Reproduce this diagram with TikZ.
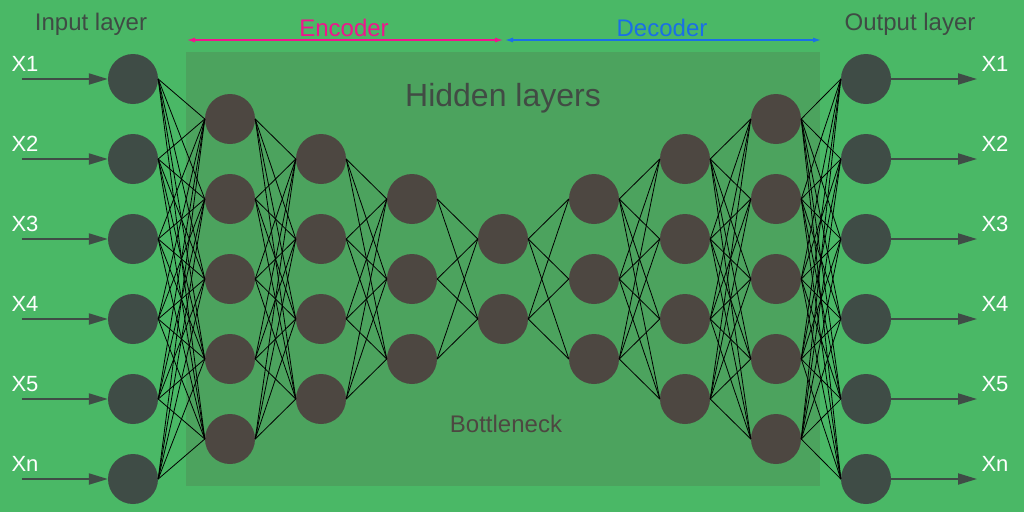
\documentclass[tikz,border=0pt]{standalone}
\usepackage{fontspec}
\setmainfont{Liberation Sans}
\usepackage{xcolor}
\definecolor{bggreen}{HTML}{4AB866}
\definecolor{panelgreen}{HTML}{4CA35E}
\definecolor{iocircle}{HTML}{3F4C46}
\definecolor{hidcircle}{HTML}{4D4741}
\definecolor{labelgray}{HTML}{3F4B44}
\definecolor{encpink}{HTML}{F0148C}
\definecolor{decblue}{HTML}{1A6FE6}
\usepackage{tikz}
\usetikzlibrary{arrows.meta, calc}

\begin{document}
\begin{tikzpicture}[
  x = 1pt, y = -1pt,
  neuron/.style   = {circle, minimum size=50pt, inner sep=0pt, fill=hidcircle},
  ioneuron/.style = {neuron, fill=iocircle},
  link/.style     = {black, line width=0.8pt},
  ioarr/.style    = {-{Triangle[length=19pt, width=11pt]}, line width=2pt, draw=iocircle},
  xlab/.style     = {text=white, inner sep=0pt, font=\fontsize{22}{26}\selectfont},
  title/.style    = {text=labelgray, inner sep=0pt, font=\fontsize{24}{28}\selectfont},
  span/.style     = {{Latex[length=8pt, width=5pt]}-{Latex[length=8pt, width=5pt]}, line width=1.2pt},
  panel/.style    = {fill=panelgreen, minimum width=634pt, minimum height=434pt, inner sep=0pt}
]

% ── CANVAS ──────────────────────────────────────────────
\fill[bggreen] (0,0) rectangle (1024,512);
\useasboundingbox (0,0) rectangle (1024,512);
\node[panel] (hidden) at (503,269) {};

% ── HEADINGS ────────────────────────────────────────────
\node[title] (inlab)  at (91,24)  {Input layer};
\node[title] (outlab) at (910,24) {Output layer};
\node[title, text=encpink] (enclab) at (344,28) {Encoder};
\node[title, text=decblue] (declab) at (662,28) {Decoder};
\node[title, text=labelgray!90!hidcircle, font=\fontsize{32}{36}\selectfont] (hidlab) at (503,98) {Hidden layers};
\node[title, text=hidcircle] (botlab) at (506,424) {Bottleneck};

\coordinate (enc-l) at (187,40);
\coordinate (enc-r) at (503,40);
\coordinate (dec-l) at (505,40);
\coordinate (dec-r) at (821,40);
\draw[span, encpink] (enc-l) -- (enc-r);
\draw[span, decblue] (dec-l) -- (dec-r);

% ── NEURONS ─────────────────────────────────────────────
\foreach \l/\x/\n/\s/\sty in {0/133/6/79/ioneuron, 1/230/5/119/neuron,
    2/321/4/159/neuron, 3/412/3/199/neuron, 4/503/2/239/neuron,
    5/594/3/199/neuron, 6/685/4/159/neuron, 7/776/5/119/neuron,
    8/866/6/79/ioneuron}
  \foreach \k in {1,...,\n}
    \node[\sty] (n-\l-\k) at (\x, {\s+80*(\k-1)}) {};

% ── WEIGHTS ─────────────────────────────────────────────
\foreach \l/\a/\b in {0/6/5, 1/5/4, 2/4/3, 3/3/2, 4/2/3, 5/3/4, 6/4/5, 7/5/6} {
  \pgfmathtruncatemacro{\m}{\l+1}
  \foreach \i in {1,...,\a}
    \foreach \j in {1,...,\b}
      \draw[link] (n-\l-\i.east) -- (n-\m-\j.west);
}

% ── INPUTS / OUTPUTS ────────────────────────────────────
\foreach \k/\t in {1/X1, 2/X2, 3/X3, 4/X4, 5/X5, 6/Xn} {
  \coordinate (src-\k) at (22, {79+80*(\k-1)});
  \coordinate (dst-\k) at (977, {79+80*(\k-1)});
  \draw[ioarr] (src-\k) -- (n-0-\k);
  \draw[ioarr] (n-8-\k) -- (dst-\k);
  \node[xlab] (xin-\k)  at (25, {64+80*(\k-1)})  {\t};
  \node[xlab] (xout-\k) at (995, {64+80*(\k-1)}) {\t};
}

\end{tikzpicture}
\end{document}
